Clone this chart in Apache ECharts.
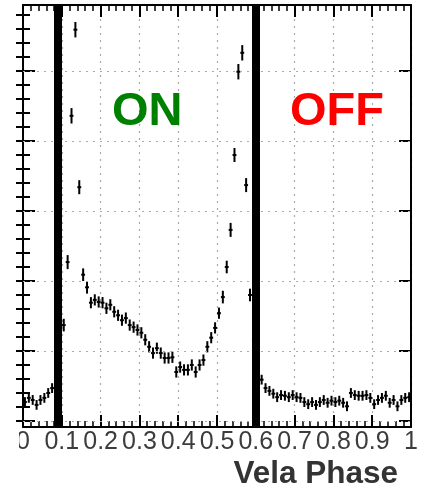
<!DOCTYPE html>
<html><head><meta charset="utf-8">
<script src="https://cdn.jsdelivr.net/npm/echarts@6/dist/echarts.min.js"></script>
<style>html,body{margin:0;padding:0;background:#fff}#c{width:421px;height:492px}</style>
</head><body><div id="c"></div>
<script>
// ---- data ----
const phases = [
 0.005,0.015,0.025,0.035,0.045,0.055,0.065,0.075,0.085,0.095,
 0.105,0.115,0.125,0.135,0.145,0.155,0.165,0.175,0.185,0.195,
 0.205,0.215,0.225,0.235,0.245,0.255,0.265,0.275,0.285,0.295,
 0.305,0.315,0.325,0.335,0.345,0.355,0.365,0.375,0.385,0.395,
 0.405,0.415,0.425,0.435,0.445,0.455,0.465,0.475,0.485,0.495,
 0.505,0.515,0.525,0.535,0.545,0.555,0.565,0.575,0.585,0.595,
 0.605,0.615,0.625,0.635,0.645,0.655,0.665,0.675,0.685,0.695,
 0.705,0.715,0.725,0.735,0.745,0.755,0.765,0.775,0.785,0.795,
 0.805,0.815,0.825,0.835,0.845,0.855,0.865,0.875,0.885,0.895,
 0.905,0.915,0.925,0.935,0.945,0.955,0.965,0.975,0.985,0.995
];
const counts = [
 127,133,130,123,130,133,140,147,151,190,
 237,327,536,659,434,309,291,269,273,270,
 269,261,266,256,251,244,247,237,234,230,
 226,216,206,197,204,197,190,190,191,170,
 177,173,173,180,170,180,187,206,219,233,
 254,277,320,373,480,599,626,437,280,216,
 180,159,147,143,139,134,137,136,134,137,
 134,133,127,124,127,123,127,130,126,129,
 127,129,126,121,140,137,136,136,137,133,
 124,130,133,136,126,130,121,130,133,134
];
const errors = [
 7,7,7,7,7,7,7,7,7,8,
 9,10,11,11,10,9,9,8,8,8,
 8,8,8,8,8,8,8,8,8,8,
 8,8,8,8,8,8,8,8,8,8,
 8,8,8,8,8,8,8,8,8,8,
 8,9,9,10,10,11,11,10,9,8,
 7,7,7,7,7,7,7,7,7,7,
 7,7,7,7,7,7,7,7,7,7,
 7,7,7,7,7,7,7,7,7,7,
 7,7,7,7,7,7,7,7,7,7
];
const binWidth = 0.01;
const cutPhases = [0.089, 0.605];
const regionLabels = ['ON', 'OFF'];
const xTitle = 'Vela Phase';
const xMin = 0, xMax = 1, xStep = 0.1;
const yMin = 91.4, yMax = 694.3;
const yMajorTicks = [100, 200, 300, 400, 500, 600];
const yMinorTicks = [100,120,140,160,180,200,220,240,260,280,300,320,340,360,380,400,
  420,440,460,480,500,520,540,560,580,600,620,640,660,680];

// ---- chart ----
const FONT = 'Liberation Sans';
const chart = echarts.init(document.getElementById('c'), null, {renderer: 'canvas'});
const frameLine = {show: true, onZero: false, lineStyle: {color: '#000', width: 2}};
const xCommon = {
  type: 'value', min: xMin, max: xMax, interval: xStep,
  axisLine: frameLine,
  axisTick: {show: true, inside: true, length: 12, lineStyle: {color: '#000', width: 2}},
  minorTick: {show: true, splitNumber: 5, length: 6, lineStyle: {color: '#000', width: 1.5}}
};
const yAxisDef = (pos, ticks, len, showLine) => ({
  type: 'value', min: yMin, max: yMax, position: pos,
  axisLine: showLine ? frameLine : {show: false},
  axisTick: {show: true, inside: true, length: len, customValues: ticks,
             lineStyle: {color: '#000', width: 2}},
  axisLabel: {show: false},
  splitLine: {show: false}
});
const rows = phases.map((p, i) => [p, counts[i], errors[i]]);

const option = {
  animation: false,
  backgroundColor: '#fff',
  grid: {left: 23, right: 4, top: 5, bottom: 65, containLabel: false},
  xAxis: [
    Object.assign({}, xCommon, {
      position: 'bottom',
      splitLine: {show: true, lineStyle: {color: '#aaa', width: 1.2, type: [2, 5]}},
      axisLabel: {show: true, fontSize: 25, color: '#3c3c3c', margin: 3, fontFamily: FONT}
    }),
    Object.assign({}, xCommon, {
      position: 'top',
      splitLine: {show: false},
      axisLabel: {show: false}
    })
  ],
  yAxis: [
    yAxisDef('left', yMajorTicks, 12, true),
    yAxisDef('left', yMinorTicks, 7, false),
    yAxisDef('right', yMajorTicks, 12, true),
    yAxisDef('right', yMinorTicks, 7, false)
  ],
  series: [
    {
      type: 'line', xAxisIndex: 0, yAxisIndex: 0, z: 1,
      data: rows.map(r => [r[0], r[1]]),
      showSymbol: false, silent: true,
      lineStyle: {opacity: 0},
      markLine: {
        silent: true, symbol: 'none', label: {show: false}, animation: false,
        lineStyle: {color: '#aaa', width: 1.2, type: [2, 5]},
        data: yMajorTicks.map(v => ({yAxis: v}))
      }
    },
    {
      type: 'custom', xAxisIndex: 0, yAxisIndex: 0, z: 3,
      data: rows,
      encode: {x: 0, y: 1},
      renderItem: function (params, api) {
        const x = api.value(0), y = api.value(1), e = api.value(2);
        const l = api.coord([x - binWidth / 2, y]);
        const r = api.coord([x + binWidth / 2, y]);
        const t = api.coord([x, y + e]);
        const b = api.coord([x, y - e]);
        const st = {stroke: '#000', lineWidth: 2};
        return {
          type: 'group',
          children: [
            {type: 'line', shape: {x1: l[0], y1: l[1], x2: r[0], y2: r[1]}, style: st},
            {type: 'line', shape: {x1: t[0], y1: t[1], x2: b[0], y2: b[1]}, style: st}
          ]
        };
      }
    },
    {
      type: 'line', xAxisIndex: 0, yAxisIndex: 0, z: 5,
      data: rows.map(r => [r[0], r[1]]),
      showSymbol: false, silent: true,
      lineStyle: {opacity: 0},
      markLine: {
        silent: true, symbol: 'none', label: {show: false}, animation: false,
        lineStyle: {color: '#000', width: 8, type: 'solid'},
        data: cutPhases.map(v => ({xAxis: v}))
      }
    }
  ],
  graphic: [
    {type: 'text', left: 112, top: 89, z: 10,
     style: {text: regionLabels[0], fill: '#008000', font: 'bold 47px "Liberation Sans"'}},
    {type: 'text', left: 290, top: 89, z: 10,
     style: {text: regionLabels[1], fill: '#ff0000', font: 'bold 47px "Liberation Sans"'}},
    {type: 'text', right: 23, top: 458, z: 10,
     style: {text: xTitle, fill: '#333', font: 'bold 31.5px "Liberation Sans"'}},
    {type: 'rect', left: 0, top: 429, z: 20,
     shape: {width: 19, height: 30}, style: {fill: '#fff'}}
  ]
};
chart.setOption(option);
</script>
</body></html>
